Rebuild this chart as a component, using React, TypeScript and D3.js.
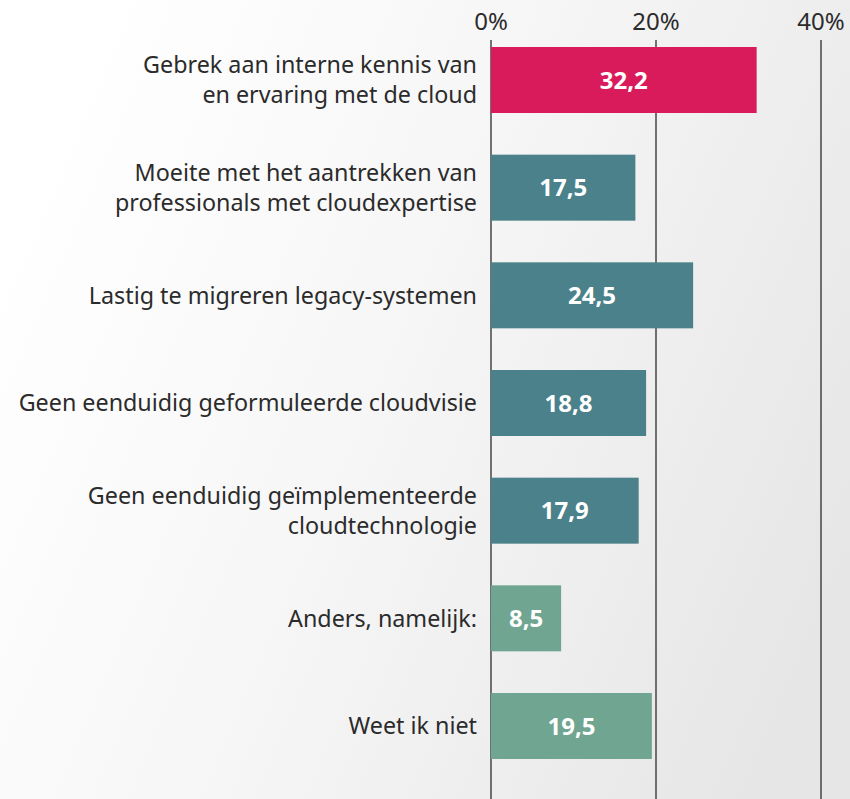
import * as d3 from 'd3';

const categories: string[][] = [
  ['Gebrek aan interne kennis van', 'en ervaring met de cloud'],
  ['Moeite met het aantrekken van', 'professionals met cloudexpertise'],
  ['Lastig te migreren legacy-systemen'],
  ['Geen eenduidig geformuleerde cloudvisie'],
  ['Geen eenduidig geïmplementeerde', 'cloudtechnologie'],
  ['Anders, namelijk:'],
  ['Weet ik niet'],
];
const values = [32.2, 17.5, 24.5, 18.8, 17.9, 8.5, 19.5];
const groups = ['top', 'mid', 'mid', 'mid', 'mid', 'low', 'low'];
const ticks = [0, 20, 40];

const colors: Record<string, string> = {
  top: '#d91b5c',
  mid: '#4a818a',
  low: '#70a591',
};

export default function App() {
  const width = 850;
  const height = 799;
  const gridTop = 40;

  const x = d3.scaleLinear().domain([0, 40]).range([491, 821]);
  const y = d3
    .scaleBand<number>()
    .domain(d3.range(values.length))
    .range([47, 759])
    .paddingInner(0.387)
    .paddingOuter(0);

  const fmt = (v: number) => v.toFixed(1).replace('.', ',');
  const font = '"Noto Sans", "Open Sans", sans-serif';

  return (
    <svg
      width={width}
      height={height}
      style={{ position: 'absolute', left: 0, top: 0, display: 'block' }}
      fontFamily={font}
    >
      <defs>
        <linearGradient id="bg" x1="0" y1="0.3" x2="1" y2="0.7">
          <stop offset="0" stopColor="#ffffff" />
          <stop offset="0.45" stopColor="#f6f6f7" />
          <stop offset="1" stopColor="#e6e6e7" />
        </linearGradient>
      </defs>
      <rect width={width} height={height} fill="url(#bg)" />

      {/* gridlines */}
      {ticks.map((t) => (
        <g key={t}>
          <line
            x1={x(t)}
            x2={x(t)}
            y1={gridTop}
            y2={height}
            stroke="#3a3a3a"
            strokeWidth={1.4}
          />
          <text
            x={x(t)}
            y={30}
            textAnchor="middle"
            fontSize={24}
            fill="#2b2b2b"
          >
            {t}%
          </text>
        </g>
      ))}

      {/* bars */}
      {values.map((v, i) => {
        const y0 = y(i)!;
        const bh = y.bandwidth();
        const lines = categories[i];
        const lh = 30;
        return (
          <g key={i}>
            <rect
              x={x(0)}
              y={y0}
              width={x(v) - x(0)}
              height={bh}
              fill={colors[groups[i]]}
            />
            <text
              x={(x(0) + x(v)) / 2}
              y={y0 + bh / 2}
              dy="0.36em"
              textAnchor="middle"
              fontSize={24}
              fontWeight={700}
              fill="#ffffff"
            >
              {fmt(v)}
            </text>
            {lines.map((l, j) => (
              <text
                key={j}
                x={477}
                y={y0 + bh / 2 + (j - (lines.length - 1) / 2) * lh}
                dy="0.36em"
                textAnchor="end"
                fontSize={23.3}
                fill="#2b2b2b"
              >
                {l}
              </text>
            ))}
          </g>
        );
      })}
    </svg>
  );
}
